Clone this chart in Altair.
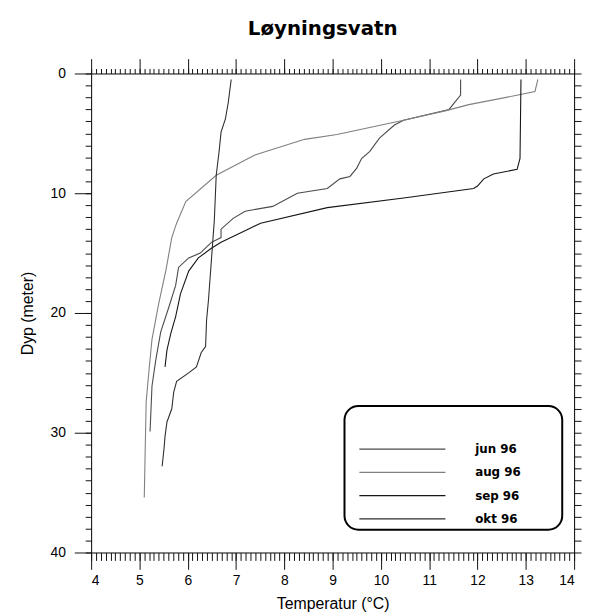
import altair as alt
import pandas as pd

series_names = ["jun 96", "aug 96", "sep 96", "okt 96"]
series_colors = ["#4a4a4a", "#808080", "#161616", "#2e2e2e"]

jun_temp = [11.65, 11.65, 11.41, 10.47, 10.28, 9.97, 9.77, 9.60, 9.50, 9.36, 9.15, 8.89, 8.27, 7.76,
            7.19, 6.94, 6.69, 6.69, 6.49, 6.26, 6.02, 5.81, 5.75, 5.61, 5.44, 5.34, 5.26, 5.22]
jun_depth = [0.5, 1.8, 3.0, 3.9, 4.3, 5.4, 6.5, 7.1, 7.9, 8.6, 8.8, 9.6, 10.0, 11.1,
             11.5, 12.1, 13.0, 13.7, 14.1, 15.0, 15.4, 16.2, 17.7, 19.5, 21.6, 23.9, 26.1, 29.9]

aug_temp = [13.25, 13.19, 12.84, 11.82, 11.35, 10.47, 9.09, 8.42, 7.39, 6.59, 5.96, 5.77, 5.67,
            5.55, 5.40, 5.26, 5.20, 5.14, 5.12, 5.10]
aug_depth = [0.5, 1.5, 1.8, 2.6, 3.1, 3.9, 5.1, 5.5, 6.8, 8.5, 10.7, 12.5, 13.7,
             16.4, 19.2, 22.2, 24.7, 27.4, 31.3, 35.4]

sep_temp = [12.90, 12.88, 12.82, 12.33, 12.13, 12.00, 11.92, 10.47, 8.89, 7.51, 7.25, 6.69, 6.49,
            6.22, 6.02, 5.85, 5.75, 5.65, 5.57, 5.53]
sep_depth = [0.5, 7.1, 8.0, 8.4, 8.8, 9.4, 9.6, 10.4, 11.2, 12.5, 13.0, 14.1, 14.6,
             15.4, 16.5, 18.4, 20.3, 21.7, 23.1, 24.5]

okt_temp = [6.90, 6.84, 6.78, 6.69, 6.65, 6.59, 6.55, 6.43, 6.39, 6.37, 6.28, 6.18, 6.02, 5.77,
            5.71, 5.67, 5.57, 5.53, 5.51, 5.47]
okt_depth = [0.5, 2.4, 3.8, 4.9, 6.5, 8.5, 12.3, 18.9, 20.6, 22.8, 23.3, 24.5, 25.0, 25.7,
             26.6, 28.0, 29.1, 30.3, 31.3, 32.8]

x_major = list(range(4, 15))
x_minor = [round(4 + i * 0.1, 1) for i in range(101)]
y_major = [0, 10, 20, 30, 40]
y_minor = list(range(0, 41))

rows = []
for name, temps, depths in zip(series_names,
                               [jun_temp, aug_temp, sep_temp, okt_temp],
                               [jun_depth, aug_depth, sep_depth, okt_depth]):
    for i, (t, d) in enumerate(zip(temps, depths)):
        rows.append({"series": name, "temp": t, "depth": d, "idx": i})
df = pd.DataFrame(rows)

xscale = alt.Scale(domain=[4, 14], nice=False, zero=False)
yscale = alt.Scale(domain=[0, 40], nice=False, zero=False, reverse=True)

axis_common = dict(domain=False, grid=False, tickColor="#111111", tickWidth=1,
                   labelFont="Liberation Sans", labelFontSize=14, labelColor="#000000",
                   titleFont="Liberation Sans", titleFontSize=16, titleFontWeight="normal",
                   titleColor="#000000")

legend = alt.Legend(
    orient="none", legendX=270, legendY=373, direction="vertical",
    title=None, padding=0,
    symbolType="stroke", symbolSize=7569, symbolStrokeWidth=1.2, symbolOffset=0,
    labelOffset=29, labelFont="DejaVu Sans", labelFontSize=12, labelFontWeight="bold",
    labelColor="#000000", clipHeight=13, rowPadding=10.5,
)

lines = alt.Chart(df).mark_line(strokeWidth=1.1).encode(
    x=alt.X("temp:Q", scale=xscale,
            axis=alt.Axis(orient="bottom", values=x_major, tickSize=17, labelPadding=4,
                          title="Temperatur (°C)", titlePadding=9, **axis_common)),
    y=alt.Y("depth:Q", scale=yscale,
            axis=alt.Axis(orient="left", values=y_major, tickSize=17, labelPadding=9,
                          title="Dyp (meter)", titlePadding=15, **axis_common)),
    color=alt.Color("series:N", scale=alt.Scale(domain=series_names, range=series_colors),
                    legend=legend),
    order=alt.Order("idx:Q"),
)

# rounded frame around the legend
legend_box = alt.Chart(pd.DataFrame({"box": [0]})).mark_rect(
    cornerRadius=14, fill="#ffffff", stroke="#000000", strokeWidth=2
).encode(x=alt.value(256), x2=alt.value(476), y=alt.value(336), y2=alt.value(461))

def ghost(xaxis, yaxis):
    return alt.Chart(df).mark_point(opacity=0, size=1).encode(
        x=alt.X("temp:Q", scale=xscale, axis=xaxis),
        y=alt.Y("depth:Q", scale=yscale, axis=yaxis),
    )

no_lab = dict(labels=False, title=None, domain=False, grid=False, tickColor="#111111", tickWidth=1)

l2 = ghost(alt.Axis(orient="bottom", values=x_minor, tickSize=8, **no_lab),
           alt.Axis(orient="left", values=y_minor, tickSize=6, **no_lab))
l3 = ghost(alt.Axis(orient="top", values=x_major, tickSize=15, **no_lab),
           alt.Axis(orient="right", values=y_minor, tickSize=7, **no_lab))
l4 = ghost(alt.Axis(orient="top", values=x_minor, tickSize=5, **no_lab), None)

chart = alt.layer(lines, l2, l3, l4, legend_box).resolve_axis(
    x="independent", y="independent"
).properties(
    width=488, height=484,
    title=alt.TitleParams("Løyningsvatn", font="DejaVu Sans", fontSize=20, fontWeight="bold",
                          anchor="middle", dx=-10, offset=19, color="#000000"),
    autosize=alt.AutoSizeParams(type="none"),
    padding={"left": 84, "top": 63, "right": 10, "bottom": 60},
).configure_view(stroke="#000000", strokeWidth=1)

chart.save("out.html", embed_options={"renderer": "svg", "actions": False})
